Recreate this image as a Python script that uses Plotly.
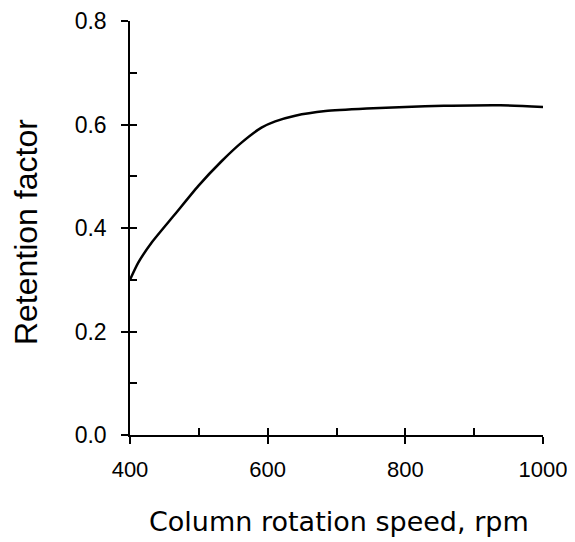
import plotly.graph_objects as go

rpm = [400, 412, 431, 465, 499, 533, 562, 591, 611, 640, 684, 744, 800, 856, 938, 1000]
retention = [0.300, 0.333, 0.371, 0.426, 0.481, 0.529, 0.565, 0.594, 0.606, 0.617, 0.626, 0.631, 0.634, 0.636, 0.637, 0.634]

x_ticks = [400, 600, 800, 1000]
y_ticks = [0.0, 0.2, 0.4, 0.6, 0.8]
y_labels = ["0.0", "0.2", "0.4", "0.6", "0.8"]

fig = go.Figure()
fig.add_trace(go.Scatter(x=rpm, y=retention, mode="lines",
                         line=dict(color="black", width=2.5, shape="spline", smoothing=0.6),
                         showlegend=False, hoverinfo="skip"))
# invisible trace to anchor overlay axes (inside ticks)
fig.add_trace(go.Scatter(x=[400], y=[0], xaxis="x2", yaxis="y2", mode="markers",
                         marker=dict(opacity=0), showlegend=False, hoverinfo="skip"))

xtickfont = dict(family="Arial, Liberation Sans, sans-serif", size=22, color="black")
ytickfont = dict(family="Arial, Liberation Sans, sans-serif", size=23, color="black")
fig.update_layout(
    width=567, height=534,
    margin=dict(l=122, r=32, t=13, b=107, autoexpand=False),
    paper_bgcolor="white", plot_bgcolor="white",
    xaxis=dict(range=[400, 1000], tickvals=x_ticks, ticks="outside", ticklen=7, tickwidth=1.5,
               tickcolor="black", showline=True, linecolor="black", linewidth=1.5,
               showgrid=False, zeroline=False, tickfont=xtickfont, ticklabelstandoff=7,
               automargin=False, ticklabeloverflow="allow"),
    yaxis=dict(range=[0, 0.8], tickvals=y_ticks, ticktext=y_labels, ticks="outside", ticklen=7,
               tickwidth=1.5, tickcolor="black", showline=True, linecolor="black", linewidth=1.5,
               showgrid=False, zeroline=False, tickfont=ytickfont, ticklabelstandoff=10,
               automargin=False, ticklabeloverflow="allow"),
    xaxis2=dict(range=[400, 1000], overlaying="x", anchor="y2", side="bottom", dtick=100, tick0=400,
                ticks="inside", ticklen=7, tickwidth=1.5, tickcolor="black",
                showticklabels=False, showline=False, showgrid=False, zeroline=False),
    yaxis2=dict(range=[0, 0.8], overlaying="y", anchor="x2", side="left", dtick=0.1, tick0=0,
                ticks="inside", ticklen=7, tickwidth=1.5, tickcolor="black",
                showticklabels=False, showline=False, showgrid=False, zeroline=False),
    annotations=[
        dict(text="Column rotation speed, rpm", xref="paper", yref="paper", x=0.506, y=-0.21,
             xanchor="center", yanchor="middle", showarrow=False,
             font=dict(family="DejaVu Sans", size=27, color="black")),
        dict(text="Retention factor", xref="paper", yref="paper", x=-0.252, y=0.49,
             xanchor="center", yanchor="middle", textangle=-90, showarrow=False,
             font=dict(family="Arial, Liberation Sans, sans-serif", size=32, color="black")),
    ],
)
fig.write_html("out.html")
